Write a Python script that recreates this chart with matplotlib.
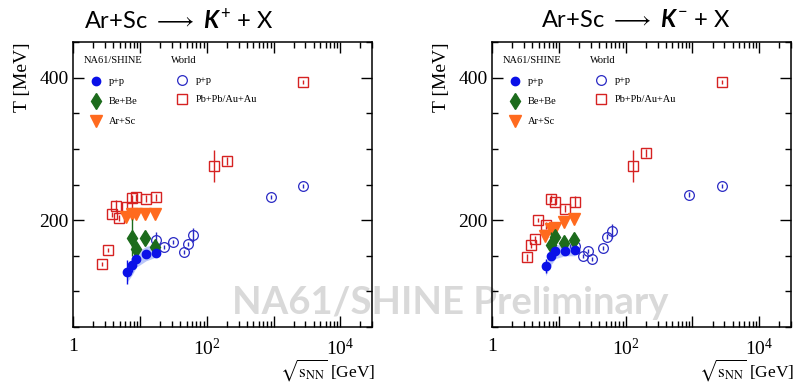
import numpy as np
import matplotlib
matplotlib.use('Agg')
import matplotlib.pyplot as plt
from matplotlib.ticker import FixedLocator, FuncFormatter, MultipleLocator

# sqrt(s_NN) [GeV] of the data sets
na61_pp_x = [6.3, 7.7, 8.8, 12.3, 17.3]
na61_bebe_x = [7.6, 8.8, 11.9, 16.8]
na61_arsc_x = [6.1, 7.6, 8.8, 11.9, 16.8]
kp_world_pp_x = [17.3, 23, 31, 45, 53, 63, 900, 2760]
km_world_pp_x = [17.3, 23, 27.4, 31, 45, 53, 63, 900, 2760]
kp_aa_x = [2.7, 3.3, 3.8, 4.3, 4.9, 6.3, 7.6, 8.8, 12.3, 17.3, 130, 200, 2760]
km_aa_x = [3.3, 3.8, 4.3, 4.9, 6.3, 7.6, 8.8, 12.3, 17.3, 130, 200, 2760]

# inverse slope parameter T [MeV], K+
kp_pp_T = [127, 137, 146, 152, 154]
kp_pp_err = [17, 10, 5, 4, 4]
kp_pp_band_lo = [112, 124, 134, 143, 148]
kp_pp_band_hi = [134, 146, 155, 163, 167]
kp_bebe_T = [175, 159, 175, 163]
kp_bebe_err = [26, 5, 5, 5]
kp_arsc_T = [204, 208, 208, 209, 209]
kp_arsc_err = [3, 3, 3, 3, 3]
kp_world_pp_T = [172, 162, 169, 155, 167, 179, 233, 248]
kp_world_pp_err = [12, 3, 3, 3, 3, 10, 3, 3]
kp_aa_T = [138, 158, 208, 220, 203, 219, 231, 232, 230, 232, 276, 283, 394]
kp_aa_err = [3, 3, 4, 8, 4, 6, 5, 5, 5, 5, 23, 6, 3]

# inverse slope parameter T [MeV], K-
km_pp_T = [136, 149, 157, 157, 158]
km_pp_err = [10, 5, 5, 5, 6]
km_pp_band_lo = [122, 138, 146, 150, 150]
km_pp_band_hi = [140, 158, 165, 167, 166]
km_bebe_T = [165, 177, 168, 172]
km_bebe_err = [18, 4, 5, 5]
km_arsc_T = [178, 188, 189, 198, 202]
km_arsc_err = [3, 3, 3, 3, 3]
km_world_pp_T = [164, 150, 157, 145, 161, 177, 185, 236, 248]
km_world_pp_err = [8, 3, 3, 3, 3, 4, 10, 3, 3]
km_aa_T = [148, 165, 173, 200, 193, 230, 226, 216, 226, 276, 294, 394]
km_aa_err = [5, 4, 5, 3, 5, 5, 5, 5, 8, 23, 6, 3]

c_pp = '#0a10e8'
c_bebe = '#1c6b1c'
c_arsc = '#ff6a1e'
c_wpp = '#2a2ac4'
c_aa = '#d62222'
c_band = '#a9b8f7'

plt.rcParams['font.family'] = ['Liberation Serif']
plt.rcParams['mathtext.fontset'] = 'custom'
plt.rcParams['mathtext.it'] = 'Lato:italic:bold'
plt.rcParams['mathtext.rm'] = 'Lato'


def draw_panel(ax, pp_T, pp_err, band_lo, band_hi, bebe_T, bebe_err,
               arsc_T, arsc_err, wpp_x, wpp_T, wpp_err, aa_x, aa_T, aa_err):
    ax.set_facecolor('none')
    ax.fill_between(na61_pp_x, band_lo, band_hi, color=c_band, alpha=0.8,
                    lw=0, zorder=1)
    ax.errorbar(aa_x, aa_T, yerr=aa_err, fmt='s', ms=7, mfc='none', mec=c_aa,
                mew=1.0, ecolor=c_aa, elinewidth=1.0, capsize=0, zorder=3)
    ax.errorbar(wpp_x, wpp_T, yerr=wpp_err, fmt='o', ms=7, mfc='none',
                mec=c_wpp, mew=0.9, ecolor=c_wpp, elinewidth=1.0, capsize=0,
                zorder=3)
    ax.errorbar(na61_arsc_x, arsc_T, yerr=arsc_err, fmt='v', ms=8,
                color=c_arsc, elinewidth=1.0, capsize=0, zorder=4)
    ax.errorbar(na61_bebe_x, bebe_T, yerr=bebe_err, fmt='d', ms=8,
                color=c_bebe, elinewidth=1.0, capsize=0, zorder=5)
    ax.errorbar(na61_pp_x, pp_T, yerr=pp_err, fmt='o', ms=6, color=c_pp,
                elinewidth=1.0, capsize=0, zorder=6)

    ax.set_xscale('log')
    ax.set_xlim(1, 3e4)
    ax.set_ylim(50, 450)
    ax.xaxis.set_major_locator(FixedLocator([1, 10, 100, 1e3, 1e4]))
    ax.xaxis.set_minor_locator(FixedLocator(
        [m * 10 ** d for d in range(5) for m in range(2, 10)]))
    ax.xaxis.set_major_formatter(FuncFormatter(
        lambda v, p: {1: '1', 100: '$\\mathregular{10^{2}}$',
                      10000: '$\\mathregular{10^{4}}$'}.get(int(round(v)), '')))
    ax.yaxis.set_major_locator(MultipleLocator(200))
    ax.yaxis.set_minor_locator(MultipleLocator(50))
    ax.tick_params(which='both', direction='in', top=True, right=True,
                   width=1.0, labelsize=14)
    ax.tick_params(which='major', length=8)
    ax.tick_params(which='minor', length=4)
    ax.tick_params(axis='x', pad=8)
    for tl in ax.get_xticklabels():
        tl.set_math_fontfamily('stix')
    for s in ax.spines.values():
        s.set_linewidth(1.1)

    ax.set_ylabel('T [MeV]', fontsize=14, loc='top', labelpad=6)
    ax.text(1.01, -0.152, r'$\sqrt{\mathrm{s}_{\mathrm{NN}}}$ [GeV]',
            fontsize=12.5, ha='right', va='center', transform=ax.transAxes,
            math_fontfamily='stix')

    # legend block
    lt = dict(transform=ax.transAxes, fontsize=7.5, va='center', ha='left')
    ax.text(0.036, 0.934, 'NA61/SHINE', **lt)
    ax.text(0.327, 0.934, 'World', **lt)
    ax.plot([0.075], [0.864], 'o', ms=6, color=c_pp, transform=ax.transAxes)
    ax.plot([0.075], [0.794], 'd', ms=8, color=c_bebe, transform=ax.transAxes)
    ax.plot([0.075], [0.722], 'v', ms=8, color=c_arsc, transform=ax.transAxes)
    ax.text(0.119, 0.860, 'p+p', **lt)
    ax.text(0.119, 0.792, 'Be+Be', **lt)
    ax.text(0.119, 0.720, 'Ar+Sc', **lt)
    ax.plot([0.365], [0.867], 'o', ms=7, mfc='none', mec=c_wpp, mew=0.9,
            transform=ax.transAxes)
    ax.plot([0.365], [0.799], 's', ms=7, mfc='none', mec=c_aa, mew=1.0,
            transform=ax.transAxes)
    ax.text(0.41, 0.865, 'p+p', **lt)
    ax.text(0.41, 0.797, 'Pb+Pb/Au+Au', **lt)


fig = plt.figure(figsize=(7.93, 3.84), dpi=100)
ax1 = fig.add_axes([0.0924, 0.1484, 0.377, 0.742])
ax2 = fig.add_axes([0.6208, 0.1484, 0.3767, 0.742])

draw_panel(ax1, kp_pp_T, kp_pp_err, kp_pp_band_lo, kp_pp_band_hi,
           kp_bebe_T, kp_bebe_err, kp_arsc_T, kp_arsc_err,
           kp_world_pp_x, kp_world_pp_T, kp_world_pp_err,
           kp_aa_x, kp_aa_T, kp_aa_err)
draw_panel(ax2, km_pp_T, km_pp_err, km_pp_band_lo, km_pp_band_hi,
           km_bebe_T, km_bebe_err, km_arsc_T, km_arsc_err,
           km_world_pp_x, km_world_pp_T, km_world_pp_err,
           km_aa_x, km_aa_T, km_aa_err)

tkw = dict(fontsize=17, family='Lato', ha='center', va='center',
           math_fontfamily='custom')
fig.text(179 / 793, 1 - 20 / 384,
         r'Ar+Sc $\longrightarrow$ $K^{+}$ + X', **tkw)
fig.text(636 / 793, 1 - 20 / 384,
         r'Ar+Sc $\longrightarrow$ $K^{-}$ + X', **tkw)

fig.text(450 / 793, 1 - 303 / 384, 'NA61/SHINE Preliminary', fontsize=27.5,
         family='Lato', weight='bold', color='#d9d9d9', ha='center',
         va='center', zorder=-1)

fig.savefig('out.png', dpi=100)
